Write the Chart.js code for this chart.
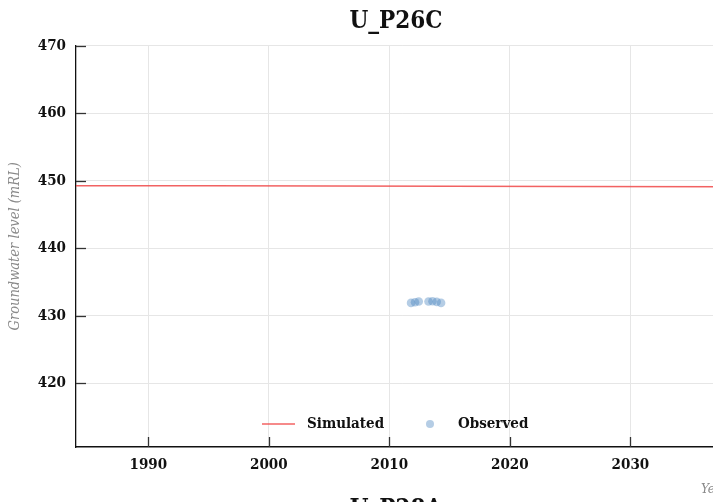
<!DOCTYPE html>
<html>
<head>
<meta charset="utf-8">
<script src="https://cdn.jsdelivr.net/npm/chart.js@4.4.0/dist/chart.umd.min.js"></script>
<style>
  html, body { margin: 0; padding: 0; background: #ffffff; overflow: hidden; width: 713px; height: 502px; }
  #wrap { position: absolute; left: 0; top: 0; width: 792px; height: 505px; }
  #next { position: absolute; left: 0; top: 496px; width: 792px; text-align: center;
          font-family: 'DejaVu Serif Condensed', 'DejaVu Serif', serif; font-weight: bold;
          font-size: 24px; line-height: 24px; color: #111; }
</style>
</head>
<body>
<div id="wrap"><canvas id="c" width="792" height="505"></canvas></div>
<div id="next">U_P28A</div>
<script>
// ---- data ----
const chartTitle = 'U_P26C';
const simulatedYears  = [1984, 1995, 2005, 2015, 2025, 2038.1];
const simulatedLevels = [449.26, 449.24, 449.21, 449.18, 449.14, 449.10];
const observedYears   = [2011.80, 2012.13, 2012.44, 2013.25, 2013.58, 2013.93, 2014.29];
const observedLevels  = [431.90, 432.00, 432.10, 432.10, 432.15, 432.05, 431.90];
const xTickValues = [1990, 2000, 2010, 2020, 2030];
const yTickValues = [420, 430, 440, 450, 460, 470];
const seriesNames = ['Simulated', 'Observed'];
const xAxisTitle = 'Year';
const yAxisTitle = 'Groundwater level (mRL)';

const FAM = "'DejaVu Serif Condensed', 'DejaVu Serif', serif";
const lineColor = 'rgba(240,70,70,0.85)';
const dotColor = 'rgba(70,130,190,0.4)';

const insideTicks = {
  id: 'insideTicks',
  afterDraw(chart) {
    const ctx = chart.ctx, a = chart.chartArea;
    const xs = chart.scales.x, ys = chart.scales.y;
    ctx.save();
    ctx.strokeStyle = '#333';
    ctx.lineWidth = 1.3;
    xTickValues.forEach(v => {
      const px = Math.round(xs.getPixelForValue(v)) + 0.5;
      ctx.beginPath(); ctx.moveTo(px, a.bottom); ctx.lineTo(px, a.bottom - 10); ctx.stroke();
    });
    yTickValues.forEach(v => {
      const py = Math.round(ys.getPixelForValue(v)) + 0.5;
      ctx.beginPath(); ctx.moveTo(a.left, py); ctx.lineTo(a.left + 10, py); ctx.stroke();
    });
    ctx.restore();
  }
};

const innerLegend = {
  id: 'innerLegend',
  afterDraw(chart) {
    const ctx = chart.ctx, a = chart.chartArea;
    const y = a.bottom - 23;
    ctx.save();
    ctx.font = 'bold 15px ' + FAM;
    ctx.fillStyle = '#111';
    ctx.textBaseline = 'middle';
    ctx.textAlign = 'left';
    ctx.strokeStyle = lineColor;
    ctx.lineWidth = 1.5;
    ctx.beginPath(); ctx.moveTo(262, y); ctx.lineTo(295, y); ctx.stroke();
    ctx.fillText(seriesNames[0], 307, y);
    ctx.fillStyle = dotColor;
    ctx.beginPath(); ctx.arc(430, y, 4, 0, Math.PI * 2); ctx.fill();
    ctx.fillStyle = '#111';
    ctx.fillText(seriesNames[1], 458, y);
    ctx.restore();
  }
};

new Chart(document.getElementById('c'), {
  type: 'scatter',
  data: {
    datasets: [
      {
        label: seriesNames[0],
        type: 'line',
        data: simulatedYears.map((x, i) => ({ x, y: simulatedLevels[i] })),
        borderColor: lineColor,
        borderWidth: 1.5,
        pointRadius: 0,
        fill: false,
        tension: 0,
        order: 1
      },
      {
        label: seriesNames[1],
        data: observedYears.map((x, i) => ({ x, y: observedLevels[i] })),
        backgroundColor: dotColor,
        borderColor: 'rgba(0,0,0,0)',
        borderWidth: 0,
        pointRadius: 4.3,
        order: 2
      }
    ]
  },
  options: {
    responsive: false,
    animation: false,
    layout: { padding: 0 },
    plugins: {
      legend: { display: false },
      tooltip: { enabled: false },
      title: {
        display: true,
        text: chartTitle,
        color: '#111',
        font: { family: FAM, size: 24, weight: 'bold', lineHeight: 1.3 },
        padding: { top: 6, bottom: 8.5 }
      }
    },
    scales: {
      x: {
        type: 'linear',
        min: 1984,
        max: 2038.1,
        afterFit(s) { s.height = 58; },
        afterBuildTicks(s) { s.ticks = xTickValues.map(v => ({ value: v })); },
        ticks: {
          color: '#111',
          font: { family: FAM, size: 15, weight: 'bold' },
          padding: 9,
          maxRotation: 0,
          callback: v => String(v)
        },
        grid: { color: '#e6e6e6', drawTicks: false, lineWidth: 1 },
        border: { color: '#111', width: 1.6 },
        title: {
          display: true,
          text: xAxisTitle,
          align: 'end',
          color: '#8a8a8a',
          font: { family: FAM, size: 13.5, style: 'italic', lineHeight: 1.2 },
          padding: { top: 0, bottom: 7 }
        }
      },
      y: {
        min: 410.55,
        max: 470,
        afterFit(s) { s.width = 76; },
        afterBuildTicks(s) { s.ticks = yTickValues.map(v => ({ value: v })); },
        ticks: {
          color: '#111',
          font: { family: FAM, size: 15, weight: 'bold' },
          padding: 10,
          callback: v => String(v)
        },
        grid: { color: '#e6e6e6', drawTicks: false, lineWidth: 1 },
        border: { color: '#111', width: 1.3 },
        title: {
          display: true,
          text: yAxisTitle,
          color: '#8a8a8a',
          font: { family: FAM, size: 14.5, style: 'italic', lineHeight: 1.2 },
          padding: { top: 7, bottom: 0 }
        }
      },
      yRightSpacer: {
        position: 'right',
        min: 410.55,
        max: 470,
        afterFit(s) { s.width = 64; },
        ticks: { display: false },
        grid: { display: false, drawTicks: false },
        border: { display: false },
        title: { display: false }
      }
    }
  },
  plugins: [insideTicks, innerLegend]
});
</script>
</body>
</html>
